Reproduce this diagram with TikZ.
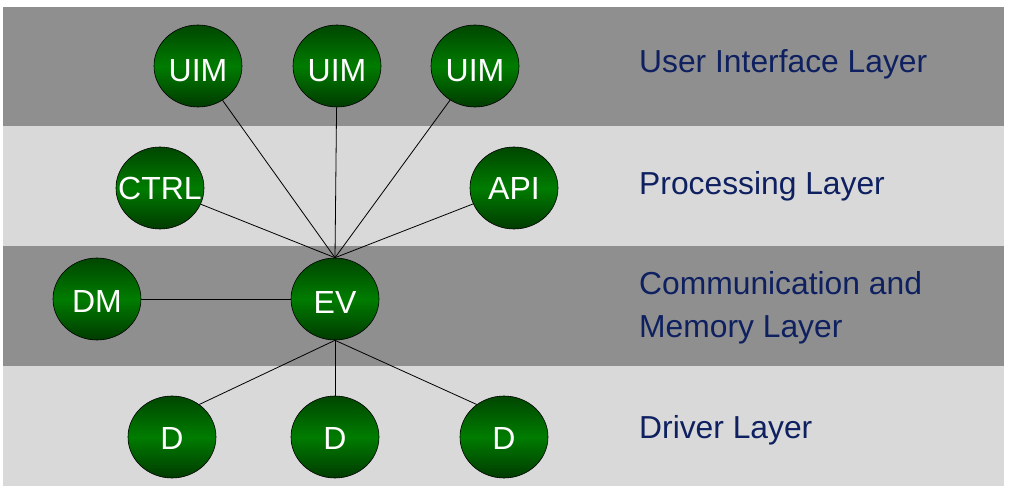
\documentclass[tikz,border=0pt]{standalone}
\usepackage{fontspec}
\setmainfont{Liberation Sans}
\usetikzlibrary{shapes.geometric}
\definecolor{darkband}{RGB}{143,143,143}
\definecolor{lightband}{RGB}{217,217,217}
\definecolor{layertext}{RGB}{14,32,96}
\definecolor{nodetop}{RGB}{0,70,0}
\definecolor{nodemid}{RGB}{0,124,0}
\definecolor{nodebot}{RGB}{0,58,0}
\tikzset{
    module/.style={ellipse, draw=black, line width=0.6pt, inner sep=0pt,
        minimum width=88pt, minimum height=82pt,
        top color=nodetop, bottom color=nodebot, middle color=nodemid,
        text=white, font=\fontsize{32}{36}\selectfont},
    layer/.style={anchor=base west, inner sep=0pt, text=layertext,
        font=\fontsize{31.8}{43}\selectfont},
    link/.style={draw=black, line width=0.8pt}
}
% label of a module, optionally lowered
\newcommand{\modtext}[2][0pt]{\raisebox{-#1}[\height][\depth]{\makebox[0pt]{#2}}}
\begin{document}
\begin{tikzpicture}[x=1pt, y=-1pt]
    \useasboundingbox (0,0) rectangle (1012,494);

    % Layer bands
    \fill[darkband] (3,7) rectangle (1004,126);
    \fill[lightband] (3,126) rectangle (1004,246);
    \fill[darkband] (3,246) rectangle (1004,366);
    \fill[lightband] (3,366) rectangle (1004,486);

    % Layer names
    \node[layer] (lui) at (639,73) {User Interface Layer};
    \node[layer] (lproc) at (639,195) {Processing Layer};
    \node[layer, anchor=west, align=left] (lcomm) at (639,308) {Communication and\\Memory Layer};
    \node[layer] (ldrv) at (639,438) {Driver Layer};

    % User interface modules
    \node[module] (uim1) at (198,66) {\modtext[5pt]{UIM}};
    \node[module] (uim2) at (337,66) {\modtext[5pt]{UIM}};
    \node[module] (uim3) at (475,66) {\modtext[5pt]{UIM}};

    % Processing modules
    \node[module] (ctrl) at (160,188) {\modtext{CTRL}};
    \node[module] (api) at (514,188) {\modtext{API}};

    % Communication and memory
    \node[module] (dm) at (97,299) {\modtext[2pt]{DM}};
    \node[module] (ev) at (335,299) {\modtext[3pt]{EV}};

    % Drivers
    \node[module] (d1) at (172,437) {\modtext[1pt]{D}};
    \node[module] (d2) at (335,437) {\modtext[1pt]{D}};
    \node[module] (d3) at (504,437) {\modtext[1pt]{D}};

    % Links
    \draw[link] (uim1) -- (ev.north);
    \draw[link] (uim2) -- (ev.north);
    \draw[link] (uim3) -- (ev.north);
    \draw[link] (ctrl) -- (ev.north);
    \draw[link] (api) -- (ev.north);
    \draw[link] (dm) -- (ev);
    \draw[link] (ev.south) -- (d1.50);
    \draw[link] (ev.south) -- (d2.north);
    \draw[link] (ev.south) -- (d3.130);
\end{tikzpicture}
\end{document}
